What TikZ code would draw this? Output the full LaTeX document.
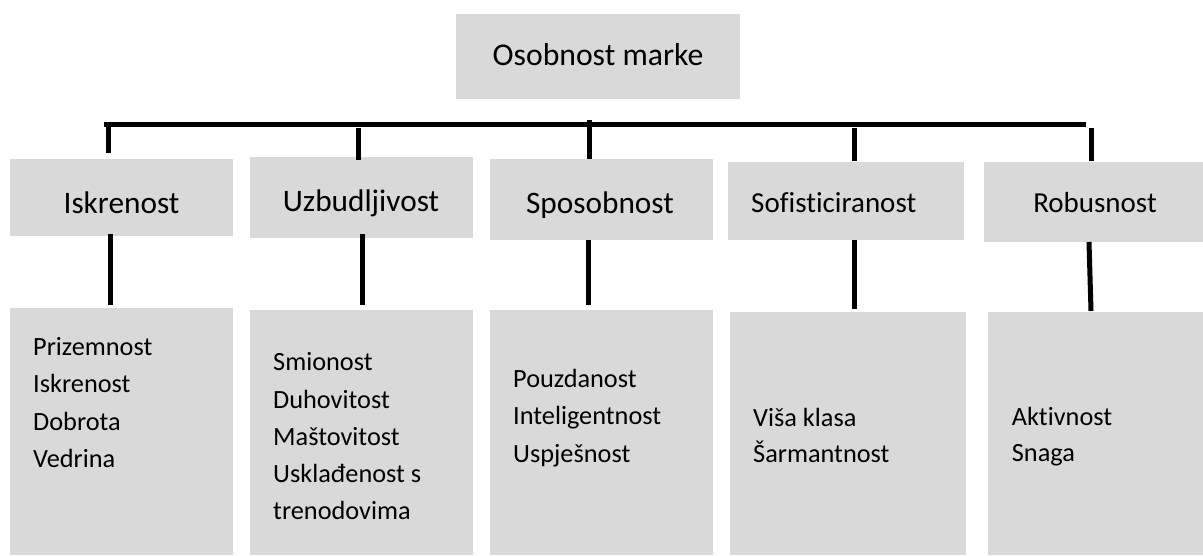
\documentclass[tikz,border=0pt]{standalone}
\usepackage{fontspec}
\setmainfont{Carlito}[Ligatures={NoCommon}]
\definecolor{boxgray}{HTML}{D9D9D9}
\begin{document}
\begin{tikzpicture}[x=1pt,y=-1pt,
  box/.style={fill=boxgray, draw=none, inner sep=0pt, outer sep=0pt, anchor=north west},
  head/.style={inner sep=0pt, anchor=base, font=\fontsize{31.3}{37}\selectfont},
  headw/.style={inner sep=0pt, anchor=base west, font=\fontsize{29}{35}\selectfont},
  item/.style={inner sep=0pt, anchor=base west, font=\fontsize{26.3}{32}\selectfont},
  conn/.style={line width=5pt, black}]
\useasboundingbox (0,0) rectangle (1203,555);

% top box
\node[box, minimum width=284pt, minimum height=85pt] (top) at (456,14) {};
\node[head, font=\fontsize{31.7}{37}\selectfont] (toptxt) at (598,65.7) {Osobnost marke};

% level 2 boxes
\node[box, minimum width=223pt, minimum height=77pt] (a1) at (10,159) {};
\node[box, minimum width=223pt, minimum height=81pt] (a2) at (250,157) {};
\node[box, minimum width=223pt, minimum height=81pt] (a3) at (490,159) {};
\node[box, minimum width=236pt, minimum height=78pt] (a4) at (728,162) {};
\node[box, minimum width=219pt, minimum height=80pt] (a5) at (984,162) {};

\node[head] (t1) at (121.5,213) {Iskrenost};
\node[head] (t2) at (361,211) {Uzbudljivost};
\node[head] (t3) at (600,213) {Sposobnost};
\node[headw] (t4) at (751,212) {Sofisticiranost};
\node[headw, anchor=base] (t5) at (1095,212) {Robusnost};

% level 3 boxes
\node[box, minimum width=223pt, minimum height=247pt] (b1) at (10,308) {};
\node[box, minimum width=223pt, minimum height=245pt] (b2) at (250,310) {};
\node[box, minimum width=223pt, minimum height=245pt] (b3) at (490,310) {};
\node[box, minimum width=236pt, minimum height=243pt] (b4) at (730,312) {};
\node[box, minimum width=215pt, minimum height=243pt] (b5) at (988,312) {};

\foreach \t [count=\i] in {Prizemnost, Iskrenost, Dobrota, Vedrina}
  \node[item] (b1l\i) at (33,{355+37.5*(\i-1)}) {\t};
\foreach \t [count=\i] in {Smionost, Duhovitost, Maštovitost, Usklađenost s, trenodovima}
  \node[item] (b2l\i) at (273,{370.7+37.3*(\i-1)}) {\t};
\foreach \t [count=\i] in {Pouzdanost, Inteligentnost, Uspješnost}
  \node[item] (b3l\i) at (513,{387+37.5*(\i-1)}) {\t};
\foreach \t [count=\i] in {Viša klasa, Šarmantnost}
  \node[item] (b4l\i) at (753,{426+36.7*(\i-1)}) {\t};
\foreach \t [count=\i] in {Aktivnost, Snaga}
  \node[item] (b5l\i) at (1011.7,{425+36.7*(\i-1)}) {\t};

% bar
\coordinate (barL) at (104,124);
\coordinate (barR) at (1086,124);
\draw[conn] (barL) -- (barR);

% upper ticks
\coordinate (u1s) at (108,122); \coordinate (u1e) at (108,153);
\coordinate (u2s) at (358,128); \coordinate (u2e) at (358,160);
\coordinate (u3s) at (589,120); \coordinate (u3e) at (589,159);
\coordinate (u4s) at (854,128); \coordinate (u4e) at (854,161);
\coordinate (u5s) at (1091,128); \coordinate (u5e) at (1091,161);
\foreach \k in {1,...,5} \draw[conn] (u\k s) -- (u\k e);

% lower ticks
\coordinate (l1s) at (110,234); \coordinate (l1e) at (110,305);
\coordinate (l2s) at (362,234); \coordinate (l2e) at (362,305);
\coordinate (l3s) at (588,240); \coordinate (l3e) at (588,305);
\coordinate (l4s) at (854,240); \coordinate (l4e) at (854,309);
\coordinate (l5s) at (1089,242); \coordinate (l5e) at (1091,311);
\foreach \k in {1,...,5} \draw[conn] (l\k s) -- (l\k e);
\end{tikzpicture}
\end{document}
